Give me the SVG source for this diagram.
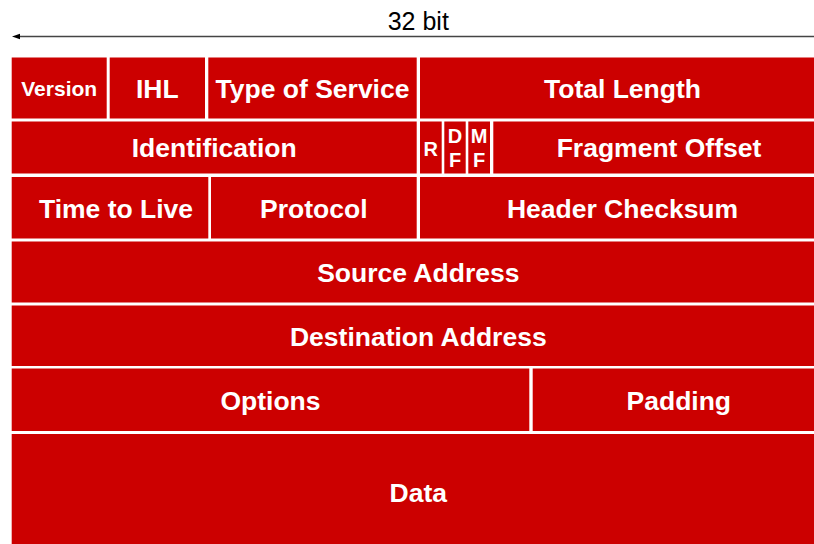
<svg xmlns="http://www.w3.org/2000/svg" width="814" height="544" viewBox="0 0 814 544">
<style>
.c{fill:#CC0000}
.t{fill:#fff;font-family:"Liberation Sans",Arial,sans-serif;font-weight:bold;font-size:26.5px;text-anchor:middle}
.s{font-size:21px}
.f{font-size:20px}
</style>
<rect width="814" height="544" fill="#fff"/>
<g id="connectors">
<line x1="20" y1="36.5" x2="814" y2="36.5" stroke="#444" stroke-width="1.3"/>
<path d="M12,36.5 L20,33.8 L20,39.2 Z" fill="#000"/>
</g>
<text x="418.3" y="30" font-family="'Liberation Sans',Arial,sans-serif" font-size="25" text-anchor="middle" fill="#000">32 bit</text>
<g id="version"><rect class="c" x="11.7" y="57.5" width="95" height="61"/><text class="t s" x="59.2" y="95.5">Version</text></g>
<g id="ihl"><rect class="c" x="109.7" y="57.5" width="95.3" height="61"/><text class="t" x="157.3" y="98">IHL</text></g>
<g id="tos"><rect class="c" x="208.3" y="57.5" width="208.4" height="61"/><text class="t" x="312.5" y="98">Type of Service</text></g>
<g id="total-length"><rect class="c" x="420" y="57.5" width="405" height="61"/><text class="t" x="622.5" y="98">Total Length</text></g>
<g id="identification"><rect class="c" x="11.7" y="121.5" width="405" height="52"/><text class="t" x="214.2" y="157">Identification</text></g>
<g id="flag-r"><rect class="c" x="420" y="121.5" width="21.7" height="52"/><text class="t f" x="430.8" y="156">R</text></g>
<g id="flag-df"><rect class="c" x="444.3" y="121.5" width="21.4" height="52"/><text class="t f" x="455" y="143.3">D</text><text class="t f" x="455" y="167.3">F</text></g>
<g id="flag-mf"><rect class="c" x="468.3" y="121.5" width="21.7" height="52"/><text class="t f" x="479.2" y="143.3">M</text><text class="t f" x="479.2" y="167.3">F</text></g>
<g id="fragment-offset"><rect class="c" x="493.3" y="121.5" width="331.7" height="52"/><text class="t" x="659" y="157">Fragment Offset</text></g>
<g id="ttl"><rect class="c" x="11.7" y="177" width="196.6" height="61.5"/><text class="t" x="116" y="218.3">Time to Live</text></g>
<g id="protocol"><rect class="c" x="211" y="177" width="205.7" height="61.5"/><text class="t" x="313.8" y="218.3">Protocol</text></g>
<g id="header-checksum"><rect class="c" x="420" y="177" width="405" height="61.5"/><text class="t" x="622.5" y="218.3">Header Checksum</text></g>
<g id="source-address"><rect class="c" x="11.7" y="241.5" width="813.3" height="61"/><text class="t" x="418.3" y="281.7">Source Address</text></g>
<g id="destination-address"><rect class="c" x="11.7" y="305.5" width="813.3" height="60.5"/><text class="t" x="418.3" y="345.5">Destination Address</text></g>
<g id="options"><rect class="c" x="11.7" y="368.5" width="517.6" height="62.5"/><text class="t" x="270.5" y="410">Options</text></g>
<g id="padding"><rect class="c" x="532.7" y="368.5" width="292.3" height="62.5"/><text class="t" x="678.8" y="410">Padding</text></g>
<g id="data"><rect class="c" x="11.7" y="434" width="813.3" height="120"/><text class="t" x="418.3" y="501.7">Data</text></g>
</svg>
